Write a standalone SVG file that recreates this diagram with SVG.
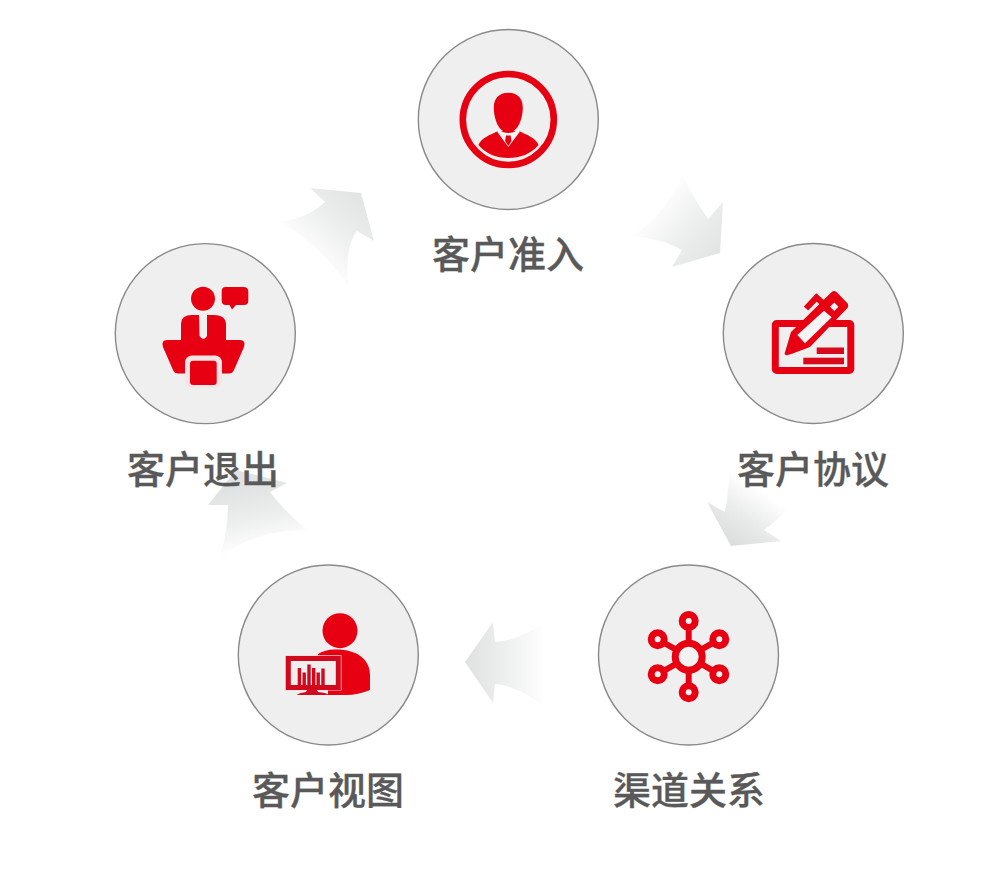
<svg xmlns="http://www.w3.org/2000/svg" width="983" height="892" viewBox="0 0 983 892">
<style>
.bg{fill:#efefef;stroke:#8a8a8a;stroke-width:1.4}
.r{fill:#e60012}
.l{fill:#595959;stroke:#595959;stroke-width:.3;font-family:"Noto Sans CJK SC","Noto Sans",sans-serif;font-size:38px;font-weight:500;text-anchor:middle}
.o{fill:none;stroke:#e60012}
</style>
<defs>
<linearGradient id="g1" gradientUnits="userSpaceOnUse" x1="362" y1="196" x2="306" y2="256"><stop offset="0" stop-color="#e2e4e4"/><stop offset=".45" stop-color="#eceded"/><stop offset="1" stop-color="#fff"/></linearGradient>
<linearGradient id="g2" gradientUnits="userSpaceOnUse" x1="720" y1="255" x2="656" y2="200"><stop offset="0" stop-color="#e2e4e4"/><stop offset=".45" stop-color="#eceded"/><stop offset="1" stop-color="#fff"/></linearGradient>
<linearGradient id="g3" gradientUnits="userSpaceOnUse" x1="735" y1="546" x2="768" y2="495"><stop offset="0" stop-color="#dcdede"/><stop offset=".5" stop-color="#eaebeb"/><stop offset="1" stop-color="#fff"/></linearGradient>
<linearGradient id="g4" gradientUnits="userSpaceOnUse" x1="468" y1="662" x2="545" y2="662"><stop offset="0" stop-color="#e0e2e2"/><stop offset=".5" stop-color="#eeefef"/><stop offset="1" stop-color="#fff"/></linearGradient>
<linearGradient id="g5" gradientUnits="userSpaceOnUse" x1="248" y1="485" x2="262" y2="548"><stop offset="0" stop-color="#e0e3e3"/><stop offset=".5" stop-color="#eceded"/><stop offset="1" stop-color="#fff"/></linearGradient>
</defs>
<g id="connectors">
<path fill="url(#g1)" d="M310,188 L361,193 L374,241 L357,231 Q345,245 348,285 Q320,245 280,222 Q308,218 325,202 Z"/>
<path fill="url(#g2)" d="M723,202 L720,253 L672,267 L682,250 Q660,238 632,236 Q665,215 682,175 Q695,200 708,219 Z"/>
<path fill="url(#g3)" d="M707,502 L731,546 L781,541 L764,530 Q785,515 802,492 Q765,492 730,470 Q728,495 725,512 Z"/>
<path fill="url(#g4)" d="M465,662 L493,622 L495,642 Q520,640 545,622 L545,708 Q520,686 495,684 L493,703 Z"/>
<path fill="url(#g5)" d="M208,505 L236,470 L287,483 L270,492 Q285,512 307,530 Q255,530 220,557 Q228,530 228,505 Z"/>
</g>
<g id="node-entry">
<circle class="bg" cx="508.3" cy="119.5" r="90"/>
<circle class="o" cx="508.3" cy="119.5" r="45.5" stroke-width="6.6"/>
<path class="r" d="M508.3,92.7 C518,92.7 523,99 522.8,108 C522.6,119 518,132.5 508.3,132.5 C498.6,132.5 494,119 493.8,108 C493.6,99 498.6,92.7 508.3,92.7 Z"/>
<path class="r" d="M478.5,145 C481,138 490,135 498,131 L519,131 C527,135 536,138 538.5,145 C531,154 520,158 508.3,158 C496.5,158 486,154 478.5,145 Z"/>
<path fill="#f4f4f4" d="M497,131.5 L500,130 C503,134 513.500,134 517,130 L520,131.500 L508.300,147 Z"/>
<path class="r" d="M506,135.500 H510.600 L511.500,141 L508.300,146 L505.100,141 Z"/>
</g>
<g id="node-agreement">
<circle class="bg" cx="813.3" cy="333.500" r="90"/>
<rect class="o" x="775.300" y="323.500" width="75.500" height="47" rx="1.500" stroke-width="7"/>
<path class="o" d="M806,308.500 L816.500,297.500 L826.500,306.500" stroke-width="6"/>
<path class="r" d="M784.500,354 L791,332 L831.700,292 Q834,290 836.500,292 L847.700,303.500 Q849,306.500 847,308.500 L810,347 Q797,352 788,355 Q785,355.500 784.500,354 Z"/>
<path fill="#f4f4f4" d="M797.300,335 L824,310.700 L831.700,317.300 L805,343.300 Z"/>
<path fill="#f4f4f4" d="M834.300,302.500 L838.500,306.700 L834.300,310.900 L830.100,306.700 Z"/>
<rect x="816.700" y="347.500" width="27.300" height="6.500" fill="#d9091c"/>
<rect x="803.300" y="357.700" width="40.700" height="6.600" fill="#d9091c"/>
</g>
<g id="node-channel">
<circle class="bg" cx="688.500" cy="655" r="90"/>
<path class="o" stroke-width="6" d="M688.700,656.700 V621 M688.700,656.700 V692.300 M688.700,656.700 L719.300,639.300 M688.700,656.700 L719.300,674.300 M688.700,656.700 L657.700,639.300 M688.700,656.700 L657.700,674.300"/>
<g fill="#f2f2f2" stroke="#e60012" stroke-width="7">
<circle cx="688.700" cy="656.700" r="13.500"/>
<circle cx="688.700" cy="621" r="6.500"/>
<circle cx="719.300" cy="639.300" r="6.500"/>
<circle cx="719.300" cy="674.300" r="6.500"/>
<circle cx="688.700" cy="692.300" r="6.500"/>
<circle cx="657.700" cy="674.300" r="6.500"/>
<circle cx="657.700" cy="639.300" r="6.500"/>
</g>
</g>
<g id="node-view">
<circle class="bg" cx="328.300" cy="655" r="90"/>
<circle class="r" cx="340" cy="630.700" r="17.500"/>
<path class="r" d="M318,654 Q326,649 336,649.500 C358,649.500 370,660 370,675 V690 Q358,695 346,695 H328 V685 H318 Z"/>
<rect x="285" y="655.300" width="56.500" height="35.200" fill="#f7d6d8"/>
<rect x="288.300" y="658.500" width="50" height="29" fill="#efefef" stroke="#d2081d" stroke-width="5"/>
<g fill="#d2081d">
<rect x="297.700" y="668" width="3.400" height="17"/>
<rect x="302.500" y="672.500" width="3.400" height="12.500"/>
<rect x="307.300" y="664.500" width="3.400" height="20.500"/>
<rect x="312" y="668" width="3.400" height="17"/>
<rect x="316.500" y="672.500" width="3.400" height="12.500"/>
<rect x="321.300" y="668.500" width="3.400" height="16.500"/>
<path d="M307,690 H317 L318,692 Q326,692.500 329,695 H296.500 Q300,692.500 306,692 Z"/>
</g>
</g>
<g id="node-exit">
<circle class="bg" cx="205.300" cy="333.600" r="90"/>
<circle class="r" cx="203" cy="298.700" r="12"/>
<path class="r" d="M225.500,287 H243.500 Q248.300,287 248.300,291.500 V301 Q248.300,305 244,305 H236 L232,309.500 L229.500,305 H226 Q221.700,305 221.700,301 V291 Q221.700,287 225.500,287 Z"/>
<path class="r" d="M181,345 V324 Q181,315 192,315 H199 L199.500,336 Q203.500,342 207,336 L207,315 H214 Q226,315 226,325 V345 Z"/>
<path class="r" d="M167,340 H240 Q246,340 244,347 L234,370 Q232.500,373.500 229,373.500 H178 Q174.500,373.500 173,370 L163,347 Q161,340 167,340 Z"/>
<rect x="185" y="355.500" width="37" height="32" rx="7" fill="#f6e4e4"/>
<rect class="r" x="190" y="360.700" width="26.700" height="24.300" rx="3"/>
</g>
<text class="l" x="508" y="268">客户准入</text>
<text class="l" x="813" y="483">客户协议</text>
<text class="l" x="689" y="804">渠道关系</text>
<text class="l" x="328" y="804">客户视图</text>
<text class="l" x="203" y="483">客户退出</text>
</svg>
